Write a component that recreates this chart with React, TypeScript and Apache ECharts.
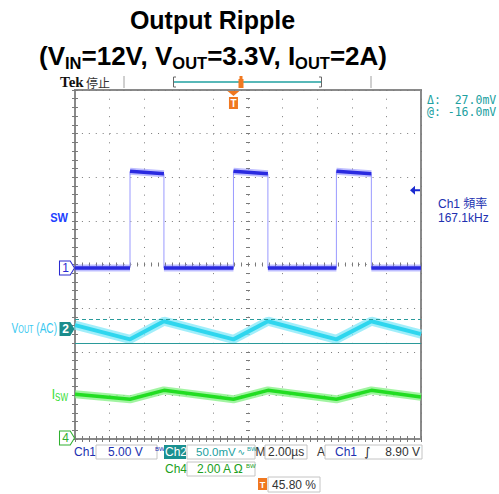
import { useEffect, useRef } from 'react';
import * as echarts from 'echarts';

// ---- data ----
const timeRange = [-9.16, 10.84]; // µs, 2.00 µs/div, trigger at 45.80 %
const swTimes = [-9.16, -5.98, -5.98, -4.02, -4.02, 0, 0, 1.99, 1.99, 5.95, 5.95, 7.97, 7.97, 10.84];
const swVolts = [0.0, 0.0, 11.1, 10.8, 0.0, 0.0, 11.1, 10.8, 0.0, 0.0, 11.1, 10.8, 0.0, 0.0];
const rippleTimes = [-9.16, -5.98, -4.02, 0, 1.99, 5.95, 7.97, 10.84];
const voutMv = [4.5, -11.8, 9.0, -11.8, 9.0, -11.8, 9.0, -5.8];
const iswAmps = [2.0, 1.77, 2.18, 1.77, 2.18, 1.77, 2.18, 1.88];
const cursorValues = [11.0, -16.0]; // mV
const triggerLevel = 8.9; // V
const ch1Range = [-19.6, 20.4]; // 5 V/div
const ch2Range = [-126, 274]; // 50 mV/div
const ch4Range = [-0.05, 15.95]; // 2 A/div

const GL = 75, GT = 90, GW = 346, GH = 349;
const SANS = 'Liberation Sans, Arial, sans-serif';

function borderAxis(extra: any) {
  return {
    type: 'value', min: 0, interval: 1, gridIndex: 0,
    axisLabel: { show: false },
    axisLine: { show: false },
    axisTick: { show: true, inside: true, length: 3, lineStyle: { color: '#7a7a7a' } },
    minorTick: { show: true, splitNumber: 5, length: 3, lineStyle: { color: '#7a7a7a' } },
    splitLine: { show: false },
    ...extra,
  };
}

export default function App() {
  const ref = useRef<HTMLDivElement>(null);
  useEffect(() => {
    if (!ref.current) return;
    const chart = echarts.init(ref.current, undefined, { renderer: 'svg' });
    const swPairs = swTimes.map((t, i) => [t, swVolts[i]]);
    const swFlat: any[] = [];
    swTimes.forEach((t, i) => {
      if (i > 0 && t === swTimes[i - 1]) swFlat.push([t, '-']);
      swFlat.push([t, swVolts[i]]);
    });
    const vPairs = rippleTimes.map((t, i) => [t, voutMv[i]]);
    const iPairs = rippleTimes.map((t, i) => [t, iswAmps[i]]);
    const chMarker = 'path://M0,0 L10,0 L14,7 L10,14 L0,14 Z';

    const txt = (x: number, y: number, text: string, fill: string, size = 12, extra: any = {}, family = SANS) => ({
      type: 'text', x, y, silent: true,
      style: { text, fill, fontSize: size, fontFamily: family, textVerticalAlign: 'middle', verticalAlign: 'middle', ...extra },
    });
    const box = (x: number, y: number, w: number, h: number) => ({
      type: 'rect', shape: { x, y, width: w, height: h }, silent: true,
      style: { fill: 'none', stroke: '#c4c4c4', lineWidth: 1 },
    });

    chart.setOption({
      animation: false,
      grid: { left: GL, top: GT, width: GW, height: GH, show: true, borderColor: '#8a8a8a', borderWidth: 2 },
      xAxis: [
        borderAxis({ max: 10, position: 'bottom', splitLine: { show: true, lineStyle: { color: '#7a7a7a', type: [1, 7.72], width: 1 } } }),
        borderAxis({ max: 10, position: 'top' }),
        borderAxis({ max: 10, position: 'bottom', offset: -172.5, axisTick: { show: true, inside: true, length: 4, lineStyle: { color: '#7a7a7a' } }, minorTick: { show: true, splitNumber: 5, length: 4, lineStyle: { color: '#7a7a7a' } } }),
        { type: 'value', min: timeRange[0], max: timeRange[1], show: false, gridIndex: 0 },
      ],
      yAxis: [
        borderAxis({ max: 8, position: 'left', splitLine: { show: true, lineStyle: { color: '#7a7a7a', type: [1, 5.92], width: 1 } } }),
        borderAxis({ max: 8, position: 'right' }),
        borderAxis({ max: 8, position: 'left', offset: -171, axisTick: { show: true, inside: true, length: 4, lineStyle: { color: '#7a7a7a' } }, minorTick: { show: true, splitNumber: 5, length: 4, lineStyle: { color: '#7a7a7a' } } }),
        { type: 'value', min: ch1Range[0], max: ch1Range[1], show: false, gridIndex: 0 },
        { type: 'value', min: ch2Range[0], max: ch2Range[1], show: false, gridIndex: 0 },
        { type: 'value', min: ch4Range[0], max: ch4Range[1], show: false, gridIndex: 0 },
      ],
      series: [
        {
          name: 'VOUT cursors', type: 'line', xAxisIndex: 3, yAxisIndex: 4, data: [], symbol: 'none',
          markLine: {
            silent: true, symbol: ['none', 'none'], label: { show: false },
            lineStyle: { color: '#2a9a9a', width: 1 },
            data: [
              { yAxis: cursorValues[0], lineStyle: { type: [4, 3], color: '#2a9a9a', width: 1 } },
              { yAxis: cursorValues[1], lineStyle: { type: 'solid', color: '#2a9a9a', width: 1 } },
            ],
          },
        },
        { name: 'SW edges', type: 'line', xAxisIndex: 3, yAxisIndex: 3, data: swPairs, symbol: 'none', lineStyle: { color: '#9a9aff', width: 1 } },
        { name: 'SW halo', type: 'line', xAxisIndex: 3, yAxisIndex: 3, data: swFlat, symbol: 'none', connectNulls: false, lineStyle: { color: 'rgba(110,110,255,0.45)', width: 7 } },
        {
          name: 'SW', type: 'line', xAxisIndex: 3, yAxisIndex: 3, data: swFlat, symbol: 'none', connectNulls: false,
          lineStyle: { color: '#2a2ae0', width: 3.5 },
          markPoint: {
            silent: true,
            data: [
              {
                coord: [timeRange[0], 0], symbol: chMarker, symbolSize: [15, 14], symbolOffset: [-8, 0],
                itemStyle: { color: '#ffffff', borderColor: '#2a2ad0', borderWidth: 1 },
                label: { show: true, formatter: '1', color: '#2a2ad0', fontSize: 12, fontFamily: SANS, offset: [-1.5, 0] },
              },
              {
                coord: [0, ch1Range[1]], symbol: 'path://M0,0 L12,0 L6,5 Z M1.5,6 L10.5,6 L10.5,18 L1.5,18 Z', symbolSize: [12, 18], symbolOffset: [0, 10],
                itemStyle: { color: '#f07820' },
                label: { show: true, formatter: 'T', color: '#ffffff', fontSize: 10, fontWeight: 'bold', fontFamily: SANS, offset: [0, 3] },
              },
              {
                coord: [timeRange[1], triggerLevel], symbol: 'path://M0,4.5 L5,0 L5,3.5 L10,3.5 L10,5.5 L5,5.5 L5,9 Z', symbolSize: [10, 9], symbolOffset: [-6, 0],
                itemStyle: { color: '#1a2ad0' }, label: { show: false },
              },
            ],
          },
        },
        { name: 'VOUT halo', type: 'line', xAxisIndex: 3, yAxisIndex: 4, data: vPairs, symbol: 'none', lineStyle: { color: 'rgba(130,232,248,0.75)', width: 9 } },
        {
          name: 'VOUT', type: 'line', xAxisIndex: 3, yAxisIndex: 4, data: vPairs, symbol: 'none', lineStyle: { color: '#2fd6ee', width: 4 },
          markPoint: {
            silent: true,
            data: [{
              coord: [timeRange[0], 0], symbol: chMarker, symbolSize: [15, 14], symbolOffset: [-8, 0],
              itemStyle: { color: '#1a8c8c' },
              label: { show: true, formatter: '2', color: '#ffffff', fontSize: 12, fontWeight: 'bold', fontFamily: SANS, offset: [-1.5, 0] },
            }],
          },
        },
        { name: 'ISW halo', type: 'line', xAxisIndex: 3, yAxisIndex: 5, data: iPairs, symbol: 'none', lineStyle: { color: 'rgba(130,240,130,0.75)', width: 8 } },
        {
          name: 'ISW', type: 'line', xAxisIndex: 3, yAxisIndex: 5, data: iPairs, symbol: 'none', lineStyle: { color: '#22dd22', width: 3.5 },
          markPoint: {
            silent: true,
            data: [{
              coord: [timeRange[0], 0], symbol: chMarker, symbolSize: [15, 14], symbolOffset: [-8, 0],
              itemStyle: { color: '#ffffff', borderColor: '#30b030', borderWidth: 1 },
              label: { show: true, formatter: '4', color: '#30b030', fontSize: 12, fontFamily: SANS, offset: [-1.5, 0] },
            }],
          },
        },
      ],
      graphic: [
        // titles
        txt(212.5, 20, 'Output Ripple', '#000', 25, { fontWeight: 'bold', textAlign: 'center', align: 'center' }),
        {
          type: 'text', x: 213, y: 56.3, silent: true,
          style: {
            text: '{m|(V}{s|IN}{m|=12V, V}{s|OUT}{m|=3.3V, I}{s|OUT}{m|=2A)}',
            textAlign: 'center', align: 'center', textVerticalAlign: 'middle', verticalAlign: 'middle',
            rich: {
              m: { fontSize: 26, fontWeight: 'bold', fontFamily: SANS, fill: '#000', lineHeight: 30, verticalAlign: 'middle' },
              s: { fontSize: 16.5, fontWeight: 'bold', fontFamily: SANS, fill: '#000', lineHeight: 16, verticalAlign: 'bottom' },
            },
          },
        },
        // top status bar
        txt(60, 82, 'Tek', '#111', 15, { fontWeight: 'bold' }, 'Liberation Serif, serif'),
        txt(86, 82, '停止', '#333', 12, {}, 'Noto Sans CJK TC, sans-serif'),
        { type: 'line', silent: true, shape: { x1: 124, y1: 76, x2: 124, y2: 88 }, style: { stroke: '#a0a0a0', lineWidth: 1 } },
        { type: 'line', silent: true, shape: { x1: 371, y1: 76, x2: 371, y2: 88 }, style: { stroke: '#a0a0a0', lineWidth: 1 } },
        { type: 'polyline', silent: true, shape: { points: [[176, 77], [173.5, 77], [173.5, 87], [176, 87]] }, style: { stroke: '#666', lineWidth: 1, fill: 'none' } },
        { type: 'polyline', silent: true, shape: { points: [[319, 77], [321.5, 77], [321.5, 87], [319, 87]] }, style: { stroke: '#666', lineWidth: 1, fill: 'none' } },
        { type: 'line', silent: true, shape: { x1: 174, y1: 82, x2: 321, y2: 82 }, style: { stroke: '#20a0a0', lineWidth: 1.5 } },
        { type: 'rect', silent: true, shape: { x: 239.5, y: 76, width: 3, height: 3 }, style: { fill: '#f07820' } },
        { type: 'rect', silent: true, shape: { x: 238.5, y: 79, width: 5, height: 9 }, style: { fill: '#f07820' } },
        // right readouts
        txt(427, 99.5, 'Δ:  27.0mV', '#20a0a0', 11.5, {}, 'DejaVu Sans Mono, monospace'),
        txt(427, 112, '@: -16.0mV', '#20a0a0', 11.5, {}, 'DejaVu Sans Mono, monospace'),
        txt(438, 204, 'Ch1 頻率', '#2030b0', 12, {}, 'Liberation Sans, Noto Sans CJK TC, sans-serif'),
        txt(438, 218, '167.1kHz', '#2030b0', 12),
        // left channel labels
        { ...txt(68, 218, 'SW', '#2040ff', 13, { fontWeight: 'bold', textAlign: 'right', align: 'right' }), scaleX: 0.85 },
        {
          type: 'text', x: 57, y: 328, silent: true, scaleX: 0.72,
          style: {
            text: '{b|V}{s|OUT}{b| (AC)}', textAlign: 'right', align: 'right', textVerticalAlign: 'middle', verticalAlign: 'middle',
            rich: {
              b: { fontSize: 14, fontFamily: SANS, fill: '#38c8f0', lineHeight: 14, verticalAlign: 'bottom' },
              s: { fontSize: 10, fontFamily: SANS, fill: '#38c8f0', lineHeight: 10, verticalAlign: 'bottom' },
            },
          },
        },
        {
          type: 'text', x: 68, y: 394, silent: true, scaleX: 0.8,
          style: {
            text: '{b|I}{s|SW}', textAlign: 'right', align: 'right', textVerticalAlign: 'middle', verticalAlign: 'middle',
            rich: {
              b: { fontSize: 15, fontFamily: SANS, fill: '#30dd30', lineHeight: 18, verticalAlign: 'middle' },
              s: { fontSize: 10, fontFamily: SANS, fill: '#30dd30', lineHeight: 10, verticalAlign: 'bottom' },
            },
          },
        },
        // bottom status: row 1
        txt(74, 452, 'Ch1', '#2030b0', 12),
        box(96, 445, 61, 14),
        txt(108, 452, '5.00 V', '#2030b0', 12),
        txt(155, 449, 'BW', '#2030b0', 6),
        { type: 'rect', silent: true, shape: { x: 164, y: 445, width: 22, height: 14 }, style: { fill: '#1a9090' } },
        txt(165, 452, 'Ch2', '#ffffff', 12),
        box(187, 445, 68, 14),
        txt(196, 452, '50.0mV', '#20a0a0', 11.5),
        txt(237.5, 452, '∿', '#20a0a0', 9, {}, 'DejaVu Sans, sans-serif'),
        txt(247, 449, 'BW', '#20a0a0', 6),
        txt(255.5, 452, 'M', '#333', 12),
        box(265, 445, 42, 14),
        txt(268, 452, '2.00µs', '#333', 12),
        txt(317, 452, 'A', '#333', 12),
        box(325, 445, 97, 14),
        txt(335, 452, 'Ch1', '#2030b0', 12),
        txt(364, 452, '∫', '#222', 12, { fontStyle: 'italic' }, 'DejaVu Sans, sans-serif'),
        txt(420, 452, '8.90 V', '#333', 12, { textAlign: 'right', align: 'right' }),
        // row 2
        txt(165, 469, 'Ch4', '#20a020', 12),
        box(187, 462, 68, 14),
        txt(197, 469, '2.00 A Ω', '#20a020', 12),
        txt(246, 466, 'BW', '#20a020', 6),
        // row 3
        { type: 'rect', silent: true, shape: { x: 258, y: 478, width: 9, height: 12 }, style: { fill: '#f07820' } },
        txt(262.5, 484.5, 'T', '#ffffff', 9, { fontWeight: 'bold', textAlign: 'center', align: 'center' }),
        box(268, 477, 52, 15),
        txt(272, 485, '45.80 %', '#333', 12),
      ],
    });
    return () => chart.dispose();
  }, []);
  return <div ref={ref} style={{ position: 'absolute', left: 0, top: 0, width: 499, height: 494, background: '#fff' }} />;
}
